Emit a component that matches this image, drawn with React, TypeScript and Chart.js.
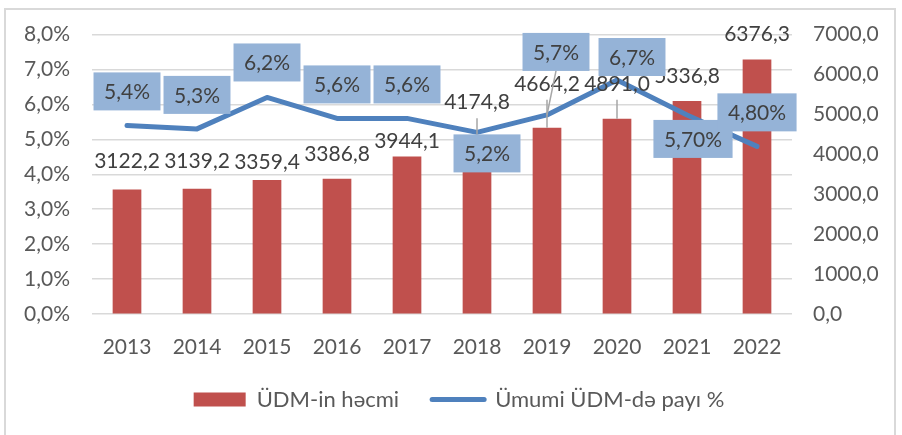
import React, { useEffect, useRef } from "react";
import { Chart, registerables } from "chart.js";

Chart.register(...registerables);

// ---- data ----
const categories = ["2013", "2014", "2015", "2016", "2017", "2018", "2019", "2020", "2021", "2022"];
const gdpVolume = [3122.2, 3139.2, 3359.4, 3386.8, 3944.1, 4174.8, 4664.2, 4891.0, 5336.8, 6376.3];
const gdpShare = [5.4, 5.3, 6.2, 5.6, 5.6, 5.2, 5.7, 6.7, 5.7, 4.8];
const shareLabels = ["5,4%", "5,3%", "6,2%", "5,6%", "5,6%", "5,2%", "5,7%", "6,7%", "5,70%", "4,80%"];
const volumeSeriesName = "ÜDM-in həcmi";
const shareSeriesName = "Ümumi ÜDM-də payı %";

// ---- label layout (style only) ----
const barLabelLift = [28, 27, 18, 25, 15, 45, 44, 35, 25, 25];
const barLabelLeader = [false, false, false, false, false, true, true, true, false, false];
const shareLabelOffset: [number, number][] = [
  [0, -34], [0, -34], [0, -35], [0, -34], [0, -34],
  [10, 21], [9, -63], [15, -23], [6, 24], [0, -34],
];
const shareLabelLeader = [false, false, false, false, false, false, true, false, false, false];

const FONT = "Lato";
const RED = "#C0504D";
const BLUE = "#4F81BD";
const BOX = "#95B3D7";

const fmt1 = (v: number) => v.toFixed(1).replace(".", ",");

const labelPlugin = {
  id: "customLabels",
  afterLayout(chart: any) {
    if (chart.legend) {
      chart.legend.left += 8;
      chart.legend.right += 8;
    }
  },
  afterDatasetsDraw(chart: any) {
    const ctx = chart.ctx as CanvasRenderingContext2D;
    const barMeta = chart.getDatasetMeta(0);
    const lineMeta = chart.getDatasetMeta(1);
    ctx.save();
    ctx.font = `21px ${FONT}`;
    ctx.textAlign = "center";
    ctx.textBaseline = "middle";
    // bar labels
    barMeta.data.forEach((el: any, i: number) => {
      const x = el.x;
      const top = el.y;
      const cy = top - barLabelLift[i];
      if (barLabelLeader[i]) {
        ctx.strokeStyle = "#a6a6a6";
        ctx.lineWidth = 1.5;
        ctx.beginPath();
        ctx.moveTo(x, cy + 16);
        ctx.lineTo(x, top);
        ctx.stroke();
      }
      ctx.fillStyle = "#404040";
      ctx.fillText(fmt1(gdpVolume[i]), x, cy);
    });
    // line labels
    lineMeta.data.forEach((pt: any, i: number) => {
      const [dx, dy] = shareLabelOffset[i];
      const cx = pt.x + dx;
      const cy = pt.y + dy;
      const text = shareLabels[i];
      const w = ctx.measureText(text).width + 21;
      const h = 38;
      if (shareLabelLeader[i]) {
        ctx.strokeStyle = "#a6a6a6";
        ctx.lineWidth = 1.5;
        ctx.beginPath();
        ctx.moveTo(cx, cy + h / 2);
        ctx.lineTo(pt.x, pt.y);
        ctx.stroke();
      }
      ctx.fillStyle = BOX;
      ctx.fillRect(cx - w / 2, cy - h / 2, w, h);
      ctx.fillStyle = "#404040";
      ctx.fillText(text, cx, cy + 1);
    });
    ctx.restore();
  },
};

export default function App() {
  const canvasRef = useRef<HTMLCanvasElement | null>(null);

  useEffect(() => {
    document.body.style.margin = "0";
    let chart: Chart | null = null;
    let cancelled = false;
    const build = () => {
      if (cancelled || !canvasRef.current) return;
      const tickFont = { family: FONT, size: 21 };
      chart = new Chart(canvasRef.current, {
        type: "bar",
        data: {
          labels: categories,
          datasets: [
            {
              type: "bar",
              label: volumeSeriesName,
              data: gdpVolume,
              backgroundColor: RED,
              borderWidth: 0,
              yAxisID: "y1",
              order: 1,
              categoryPercentage: 1,
              barPercentage: 0.41,
            },
            {
              type: "line",
              label: shareSeriesName,
              data: gdpShare,
              borderColor: BLUE,
              backgroundColor: BLUE,
              borderWidth: 5,
              pointRadius: 0,
              tension: 0,
              borderJoinStyle: "round",
              borderCapStyle: "round",
              yAxisID: "y",
              order: 0,
            },
          ],
        } as any,
        options: {
          animation: false,
          responsive: false,
          maintainAspectRatio: false,
          layout: { padding: { left: 0, right: 0, top: 34, bottom: 14.5 } },
          plugins: {
            tooltip: { enabled: false },
            legend: {
              position: "bottom",
              labels: {
                usePointStyle: true,
                pointStyleWidth: 52,
                boxHeight: 14,
                padding: 33,
                color: "#595959",
                font: { family: FONT, size: 22 },
                sort: (a: any, b: any) => a.datasetIndex - b.datasetIndex,
                generateLabels: (c: any) => {
                  const items = (Chart.defaults.plugins.legend.labels as any).generateLabels(c);
                  items.forEach((it: any) => {
                    if (it.datasetIndex === 0) {
                      it.pointStyle = "rect";
                      it.lineWidth = 0;
                      it.fillStyle = RED;
                    } else {
                      it.pointStyle = "line";
                      it.lineWidth = 5;
                      it.strokeStyle = BLUE;
                      it.lineCap = "round";
                    }
                  });
                  return items;
                },
              },
            },
          },
          scales: {
            x: {
              grid: { display: false, drawTicks: false },
              border: { display: false },
              ticks: { font: tickFont, color: "#595959", padding: 21 },
              afterFit: (s: any) => {
                s.height = 41.5;
              },
            },
            y: {
              position: "left",
              min: 0,
              max: 8,
              ticks: {
                stepSize: 1,
                padding: 22,
                font: tickFont,
                color: "#595959",
                callback: (v: any) => fmt1(Number(v)) + "%",
              },
              grid: { color: "#d9d9d9", lineWidth: 1.5, drawTicks: false },
              border: { display: false },
              afterFit: (s: any) => {
                s.width = 92;
              },
            },
            y1: {
              position: "right",
              min: 0,
              max: 7000,
              ticks: {
                stepSize: 1000,
                padding: 21,
                font: tickFont,
                color: "#595959",
                callback: (v: any) => fmt1(Number(v)),
              },
              grid: { drawOnChartArea: false, drawTicks: false },
              border: { display: false },
              afterFit: (s: any) => {
                s.width = 110;
              },
            },
          },
        } as any,
        plugins: [labelPlugin],
      });
    };
    const fontsApi = (document as any).fonts;
    if (fontsApi && fontsApi.load) {
      fontsApi.load(`21px ${FONT}`).then(build, build);
    } else {
      build();
    }
    return () => {
      cancelled = true;
      if (chart) chart.destroy();
    };
  }, []);

  return (
    <div style={{ position: "relative", width: 902, height: 435, overflow: "hidden", background: "#fff" }}>
      <div
        style={{
          position: "absolute",
          left: 4,
          top: 8,
          width: 892,
          height: 440,
          border: "2px solid #d9d9d9",
          boxSizing: "border-box",
        }}
      />
      <canvas
        ref={canvasRef}
        width={902}
        height={435}
        style={{ position: "absolute", left: 0, top: 0, width: 902, height: 435 }}
      />
    </div>
  );
}
